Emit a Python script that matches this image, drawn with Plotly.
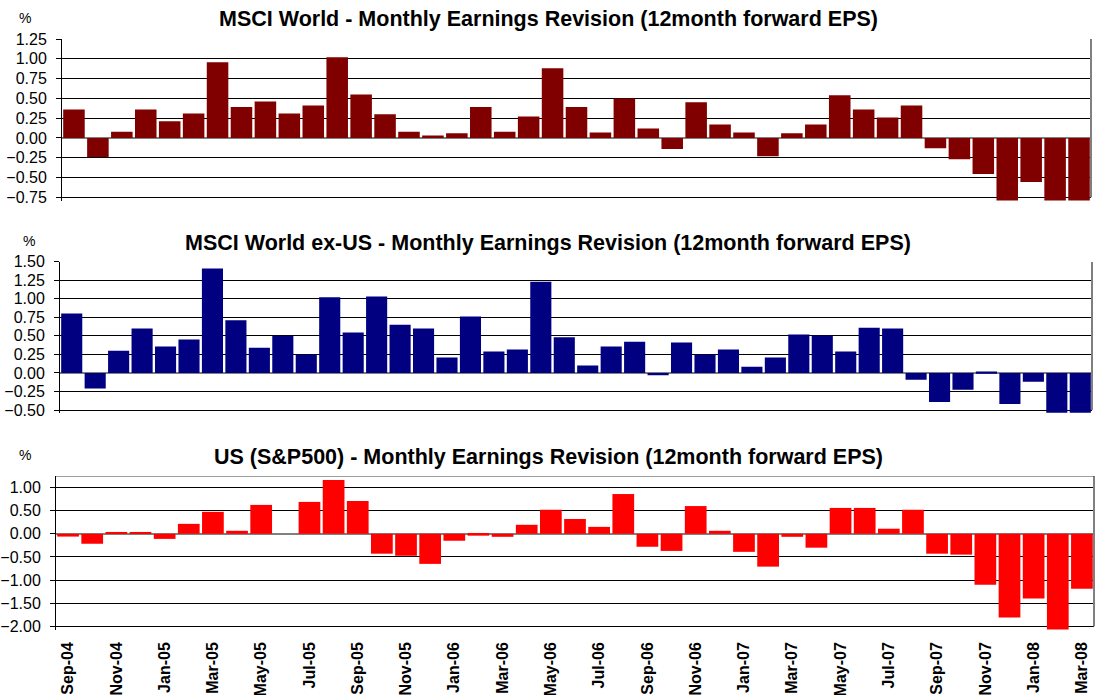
import plotly.graph_objects as go
from plotly.subplots import make_subplots

months = ['Sep-04', 'Oct-04', 'Nov-04', 'Dec-04',
          'Jan-05', 'Feb-05', 'Mar-05', 'Apr-05', 'May-05', 'Jun-05',
          'Jul-05', 'Aug-05', 'Sep-05', 'Oct-05', 'Nov-05', 'Dec-05',
          'Jan-06', 'Feb-06', 'Mar-06', 'Apr-06', 'May-06', 'Jun-06',
          'Jul-06', 'Aug-06', 'Sep-06', 'Oct-06', 'Nov-06', 'Dec-06',
          'Jan-07', 'Feb-07', 'Mar-07', 'Apr-07', 'May-07', 'Jun-07',
          'Jul-07', 'Aug-07', 'Sep-07', 'Oct-07', 'Nov-07', 'Dec-07',
          'Jan-08', 'Feb-08', 'Mar-08', 'Apr-08']

msci_world = [0.36, -0.24, 0.08, 0.36, 0.21, 0.31, 0.955, 0.39, 0.46, 0.31,
              0.41, 1.02, 0.55, 0.30, 0.08, 0.03, 0.06, 0.39, 0.08, 0.27,
              0.88, 0.39, 0.07, 0.50, 0.12, -0.14, 0.45, 0.17, 0.07, -0.23,
              0.06, 0.17, 0.54, 0.36, 0.26, 0.41, -0.13, -0.27, -0.455, -0.79,
              -0.555, -0.79, -0.79]

msci_ex_us = [0.80, -0.21, 0.30, 0.60, 0.355, 0.45, 1.41, 0.71, 0.34, 0.50,
              0.25, 1.02, 0.545, 1.03, 0.65, 0.60, 0.21, 0.76, 0.29, 0.315,
              1.23, 0.48, 0.10, 0.355, 0.42, -0.03, 0.41, 0.25, 0.315, 0.085,
              0.21, 0.52, 0.505, 0.29, 0.61, 0.60, -0.09, -0.39, -0.225, 0.02,
              -0.42, -0.12, -0.535, -0.535]

us_sp500 = [-0.06, -0.215, 0.04, 0.04, -0.11, 0.215, 0.475, 0.065, 0.625, 0.0,
            0.69, 1.165, 0.71, -0.43, -0.475, -0.65, -0.15, -0.04, -0.065, 0.195,
            0.52, 0.32, 0.15, 0.86, -0.28, -0.37, 0.60, 0.065, -0.39, -0.71,
            -0.065, -0.30, 0.56, 0.56, 0.11, 0.52, -0.43, -0.45, -1.10, -1.81,
            -1.40, -2.07, -1.19]

titles = ['MSCI World - Monthly Earnings Revision (12month forward EPS)',
          'MSCI World ex-US - Monthly Earnings Revision (12month forward EPS)',
          'US (S&P500) - Monthly Earnings Revision (12month forward EPS)']

W, H = 1098, 695
font = 'Arial, Liberation Sans, sans-serif'

fig = make_subplots(rows=3, cols=1)

fig.add_trace(go.Bar(x=months[:len(msci_world)], y=msci_world, marker_color='#800000',
                     marker_line_width=0), row=1, col=1)
fig.add_trace(go.Bar(x=months[:len(msci_ex_us)], y=msci_ex_us, marker_color='#000080',
                     marker_line_width=0), row=2, col=1)
fig.add_trace(go.Bar(x=months[:len(us_sp500)], y=us_sp500, marker_color='#FF0000',
                     marker_line_width=0), row=3, col=1)

# pixel boxes of the three plot areas (left, right, top, bottom)
boxes = [(62, 1091, 39, 201.3), (60, 1092, 261.7, 413), (56, 1094, 476, 630)]
ranges = [[-0.80, 1.25], [-0.54, 1.50], [-2.08, 1.25]]
ticks = [[-0.75, -0.5, -0.25, 0, 0.25, 0.5, 0.75, 1.0, 1.25],
         [-0.5, -0.25, 0, 0.25, 0.5, 0.75, 1.0, 1.25, 1.5],
         [-2.0, -1.5, -1.0, -0.5, 0, 0.5, 1.0]]

for i in range(3):
    l, r, t, b = boxes[i]
    fig.update_xaxes(domain=[l / W, r / W], showgrid=False, zeroline=False,
                     showline=False, ticks='', automargin=False,
                     row=i + 1, col=1)
    fig.update_yaxes(domain=[1 - b / H, 1 - t / H], range=ranges[i],
                     tickvals=ticks[i], tickformat='.2f',
                     showgrid=True, gridcolor='#000000', gridwidth=1,
                     zeroline=True, zerolinecolor='#808080', zerolinewidth=2,
                     showline=True, linecolor='#000000', linewidth=1,
                     ticks='outside', ticklen=5, tickcolor='#000000',
                     ticklabelstandoff=6, automargin=False,
                     tickfont=dict(family=font, size=16, color='#000000'),
                     row=i + 1, col=1)
    # grey right border
    fig.add_shape(type='line', xref='x%s domain' % ('' if i == 0 else i + 1),
                  yref='y%s' % ('' if i == 0 else i + 1),
                  x0=1, x1=1, y0=ticks[i][0], y1=ranges[i][1],
                  line=dict(color='#808080', width=2))
    fig.add_annotation(text=titles[i], xref='paper', yref='paper',
                       x=548 / W, y=1 - [19, 243, 457][i] / H,
                       showarrow=False, xanchor='center', yanchor='middle',
                       font=dict(family=font, size=21.5, color='#000000', weight='bold'))
    fig.add_annotation(text='%', xref='paper', yref='paper',
                       x=[25, 29, 25][i] / W, y=1 - [18, 241, 455][i] / H,
                       showarrow=False, xanchor='center', yanchor='middle',
                       font=dict(family=font, size=14, color='#000000'))

# top border of the bottom panel
fig.add_shape(type='line', xref='x3 domain', yref='y3', x0=0, x1=1, y0=1.25, y1=1.25,
              line=dict(color='#404040', width=1))

fig.update_xaxes(showticklabels=False, row=1, col=1)
fig.update_xaxes(showticklabels=False, row=2, col=1)
fig.update_xaxes(showticklabels=True, tickangle=-90, tickmode='array',
                 tickvals=months[:len(us_sp500)][::2],
                 ticktext=months[:len(us_sp500)][::2],
                 ticklabelstandoff=8,
                 tickfont=dict(family=font, size=16, color='#000000', weight='bold'),
                 row=3, col=1)

fig.update_layout(width=W, height=H, margin=dict(l=0, r=0, t=0, b=0),
                  showlegend=False, bargap=0.1,
                  plot_bgcolor='#FFFFFF', paper_bgcolor='#FFFFFF')

fig.write_html("out.html", config={'displayModeBar': False},
               post_script="document.body.style.margin='0px';")
